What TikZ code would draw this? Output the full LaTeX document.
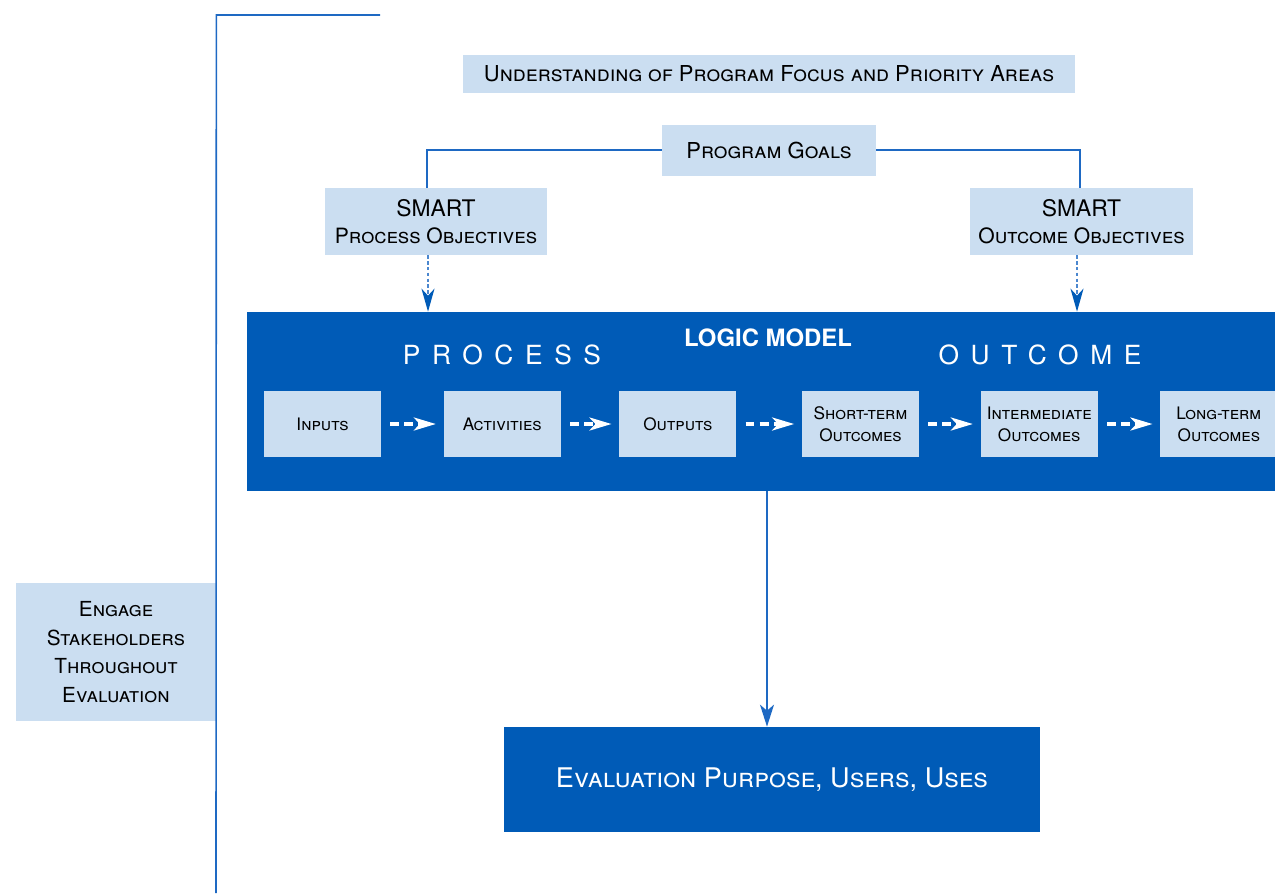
\documentclass[tikz,border=0pt]{standalone}
\usepackage{fontspec}
\setmainfont{TeX Gyre Heros}
\usetikzlibrary{positioning, arrows.meta}
\definecolor{lmblue}{RGB}{0,91,183}
\definecolor{lmlight}{RGB}{203,222,241}
\definecolor{lmline}{RGB}{30,105,195}

\begin{document}
\begin{tikzpicture}[x=0.02cm, y=-0.02cm,
	pale/.style={rectangle, fill=lmlight, inner sep=0pt, align=center, font=\fontsize{12.5}{15.5}\selectfont\scshape},
	stage/.style={rectangle, fill=lmlight, inner sep=0pt, minimum width=23.4mm, minimum height=13.2mm, align=center, font=\fontsize{9.8}{12.5}\selectfont\scshape},
	dark/.style={rectangle, fill=lmblue, inner sep=0pt, text=white},
	spaced/.style={text=white, font=\fontsize{15}{18}\selectfont\addfontfeatures{LetterSpace=44}},
	link/.style={draw=lmline, line width=0.9pt},
	dotarrow/.style={draw=lmline!80, line width=1.2pt, dash pattern=on 2pt off 1.3pt, -{Stealth[length=4.6mm, width=2.6mm, inset=1.4mm, color=lmblue]}},
	flow/.style={white, line width=2pt, dash pattern=on 5pt off 3pt, -{Stealth[length=4.4mm, width=2.6mm, inset=1.2mm]}},
	>=LaTeX
]
\useasboundingbox (0,0) rectangle (1275,893);

\node[pale, minimum width=122.4mm, minimum height=7.6mm] (focus) at (769,74) {Understanding of Program Focus and Priority Areas};
\node[pale, minimum width=42.8mm, minimum height=10.2mm] (goals) at (769,150) {Program Goals};
\node[pale, minimum width=44.4mm, minimum height=13.4mm, font=\fontsize{12}{15.5}\selectfont] (procobj) at (436,221.5) {{\fontsize{13}{15.5}\selectfont SMART}\\\scshape Process Objectives};
\node[pale, minimum width=44.6mm, minimum height=13.4mm, font=\fontsize{12}{15.5}\selectfont] (outobj) at (1081.5,221.5) {{\fontsize{13}{15.5}\selectfont SMART}\\\scshape Outcome Objectives};

\node[dark, minimum width=205.6mm, minimum height=35.8mm] (logic) at (761,401.5) {};
\node[text=white, font=\fontsize{13.6}{16}\selectfont\bfseries] (title) at (768,338) {LOGIC MODEL};
\node[spaced] (process) at (502,355) {PROCESS};
\node[spaced] (outcome) at (1040,355) {OUTCOME};

\node[stage] (inputs) at (322.5,424) {Inputs};
\node[stage, right=12.4mm of inputs] (activities) {Activities};
\node[stage, right=11.6mm of activities] (outputs) {Outputs};
\node[stage, right=13mm of outputs] (short) {Short-term\\Outcomes};
\node[stage, right=12.2mm of short] (inter) {Intermediate\\Outcomes};
\node[stage, right=12.4mm of inter] (long) {Long-term\\Outcomes};

\node[dark, minimum width=107.2mm, minimum height=21mm, font=\fontsize{15.4}{18}\selectfont\scshape] (purpose) at (772,779.5) {Evaluation Purpose, Users, Uses};
\node[pale, minimum width=40mm, minimum height=27.6mm, font=\fontsize{11.8}{16.4}\selectfont\scshape] (engage) at (116,652) {Engage\\Stakeholders\\Throughout\\Evaluation};

\coordinate (top) at (380,15);
\coordinate (bottom) at (216,893);

\draw[link] (top) -- (top -| engage.east) -- (bottom);

\draw[link] (goals.west) -| ([xshift=-1.8mm]procobj.north);
\draw[link] (goals.east) -| ([xshift=-0.3mm]outobj.north);

\draw[dotarrow] ([xshift=-1.6mm]procobj.south) -- ([xshift=-1.6mm]procobj.south |- logic.north);
\draw[dotarrow] ([xshift=-0.9mm]outobj.south) -- ([xshift=-0.9mm]outobj.south |- logic.north);

\foreach \i/\j in {inputs/activities, activities/outputs, outputs/short, short/inter, inter/long}
	\draw[flow] ([xshift=1.8mm]\i.east) -- ([xshift=-1.5mm]\j.west);

\draw[link, -{Stealth[length=4.4mm, width=2.8mm, inset=1.2mm]}] ([xshift=-1mm]purpose.north |- logic.south) -- ([xshift=-1mm]purpose.north);

\end{tikzpicture}
\end{document}
